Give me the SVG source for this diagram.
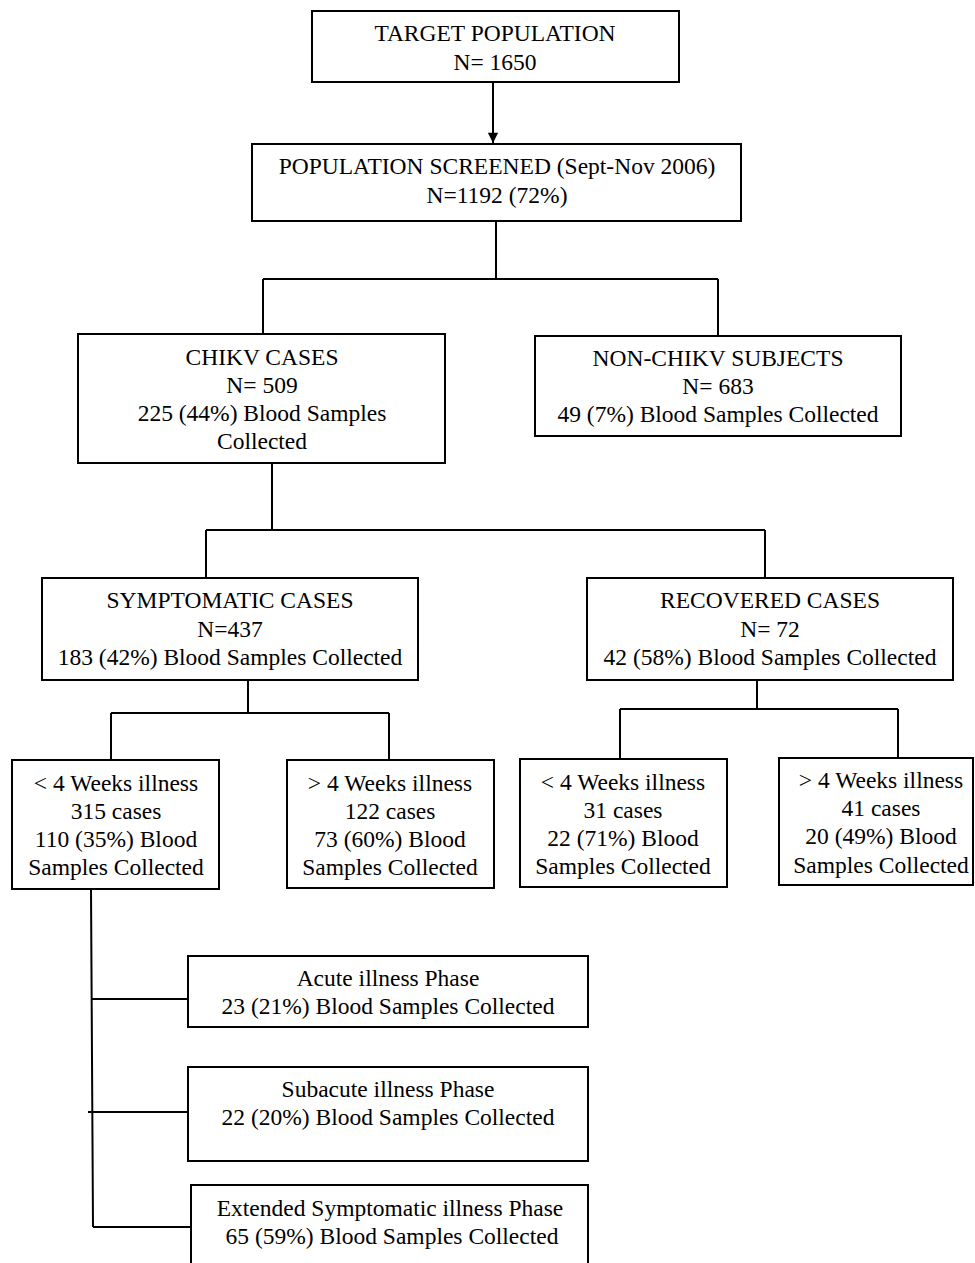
<svg xmlns="http://www.w3.org/2000/svg" width="975" height="1263" viewBox="0 0 975 1263">
<style>
.box{fill:#fff;stroke:#000;stroke-width:2}
.ln{fill:none;stroke:#000;stroke-width:2}
text{font-family:"Liberation Serif","Times New Roman",serif;font-size:23.5px;fill:#000;text-anchor:middle}
</style>
<defs>
<marker id="arr" viewBox="0 0 12 14" refX="12" refY="6" markerWidth="14" markerHeight="12" markerUnits="userSpaceOnUse" orient="auto">
<path d="M0,0 L12,6 L0,12 z" fill="#000"/>
</marker>
</defs>
<rect width="975" height="1263" fill="#fff"/>
<g id="connectors">
<line class="ln" x1="493" y1="82" x2="493" y2="143" marker-end="url(#arr)"/>
<path class="ln" d="M496,221 V279 M263,279 H718 M263,279 V334 M718,279 V336"/>
<path class="ln" d="M272,463 V530 M206,530 H765 M206,530 V578 M765,530 V578"/>
<path class="ln" d="M248,680 V713 M111,713 H389 M111,713 V760 M389,713 V760"/>
<path class="ln" d="M757,680 V709 M620,709 H898 M620,709 V759 M898,709 V758"/>
<path class="ln" d="M91,889 L93,1227 M91,999 H187 M88,1112 H187 M93,1227 H191"/>
</g>
<g id="n1"><rect class="box" x="312" y="11" width="367" height="71"/><text x="495" y="41">TARGET POPULATION</text><text x="495" y="70">N= 1650</text></g>
<g id="n2"><rect class="box" x="252" y="144" width="489" height="77"/><text x="497" y="174">POPULATION SCREENED (Sept-Nov 2006)</text><text x="497" y="203">N=1192 (72%)</text></g>
<g id="n3"><rect class="box" x="78" y="334" width="367" height="129"/><text x="262" y="365">CHIKV CASES</text><text x="262" y="393">N= 509</text><text x="262" y="421">225 (44%) Blood Samples</text><text x="262" y="449">Collected</text></g>
<g id="n4"><rect class="box" x="535" y="336" width="366" height="100"/><text x="718" y="366">NON-CHIKV SUBJECTS</text><text x="718" y="394">N= 683</text><text x="718" y="422">49 (7%) Blood Samples Collected</text></g>
<g id="n5"><rect class="box" x="42" y="578" width="376" height="102"/><text x="230" y="608">SYMPTOMATIC CASES</text><text x="230" y="637">N=437</text><text x="230" y="665">183 (42%) Blood Samples Collected</text></g>
<g id="n6"><rect class="box" x="587" y="578" width="366" height="102"/><text x="770" y="608">RECOVERED CASES</text><text x="770" y="637">N= 72</text><text x="770" y="665">42 (58%) Blood Samples Collected</text></g>
<g id="n7"><rect class="box" x="12" y="760" width="207" height="129"/><text x="116" y="791">&lt; 4 Weeks illness</text><text x="116" y="819">315 cases</text><text x="116" y="847">110 (35%) Blood</text><text x="116" y="875">Samples Collected</text></g>
<g id="n8"><rect class="box" x="287" y="760" width="207" height="128"/><text x="390" y="791">&gt; 4 Weeks illness</text><text x="390" y="819">122 cases</text><text x="390" y="847">73 (60%) Blood</text><text x="390" y="875">Samples Collected</text></g>
<g id="n9"><rect class="box" x="520" y="759" width="207" height="128"/><text x="623" y="790">&lt; 4 Weeks illness</text><text x="623" y="818">31 cases</text><text x="623" y="846">22 (71%) Blood</text><text x="623" y="874">Samples Collected</text></g>
<g id="n10"><rect class="box" x="779" y="758" width="194" height="127"/><text x="881" y="788">&gt; 4 Weeks illness</text><text x="881" y="816">41 cases</text><text x="881" y="844">20 (49%) Blood</text><text x="881" y="873">Samples Collected</text></g>
<g id="n11"><rect class="box" x="188" y="956" width="400" height="71"/><text x="388" y="986">Acute illness Phase</text><text x="388" y="1014">23 (21%) Blood Samples Collected</text></g>
<g id="n12"><rect class="box" x="188" y="1067" width="400" height="94"/><text x="388" y="1097">Subacute illness Phase</text><text x="388" y="1125">22 (20%) Blood Samples Collected</text></g>
<g id="n13"><rect class="box" x="191" y="1185" width="397" height="90"/><text x="390" y="1216">Extended Symptomatic illness Phase</text><text x="392" y="1244">65 (59%) Blood Samples Collected</text></g>
</svg>
